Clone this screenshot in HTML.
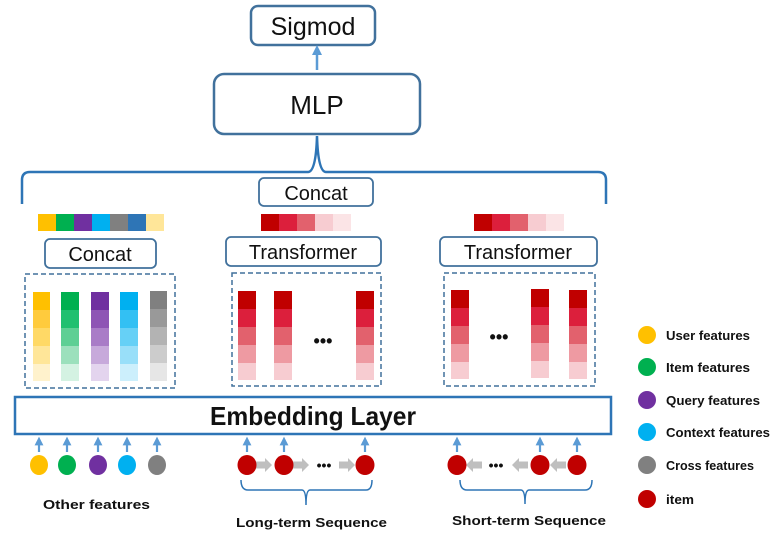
<!DOCTYPE html>
<html><head><meta charset="utf-8"><style>
html,body{margin:0;padding:0;background:#fff;}
svg{display:block;font-family:"Liberation Sans",sans-serif;}
</style></head><body>
<svg width="779" height="544" viewBox="0 0 779 544" xmlns="http://www.w3.org/2000/svg">
<defs>
<marker id="ah" viewBox="0 0 10 10" refX="5" refY="5" markerWidth="4" markerHeight="4" orient="auto"><path d="M0,0L10,5L0,10z" fill="#5B9BD5"/></marker>
<g id="gr"><path d="M0,-3.5h9v-3.5l7,7l-7,7v-3.5h-9z" fill="#BFBFBF"/></g>
<g id="gl"><path d="M16,-3.5h-9v-3.5l-7,7l7,7v-3.5h9z" fill="#BFBFBF"/></g>
<g id="rc">
<rect x="0" y="0" width="18" height="18" fill="#C00000"/><rect x="0" y="18" width="18" height="18" fill="#DC1F3C"/><rect x="0" y="36" width="18" height="18" fill="#E2616D"/><rect x="0" y="54" width="18" height="18" fill="#EE9AA2"/><rect x="0" y="72" width="18" height="17" fill="#F7CCD1"/>
</g>
</defs>
<!-- Sigmod -->
<rect x="251" y="6" width="124" height="39" rx="7" fill="#fff" stroke="#41719C" stroke-width="2.5"/>
<text x="313" y="35" font-size="25" text-anchor="middle" fill="#111">Sigmod</text>
<line x1="317" y1="70" x2="317" y2="50" stroke="#5B9BD5" stroke-width="2.5" marker-end="url(#ah)"/>
<!-- MLP -->
<rect x="214" y="74" width="206" height="60" rx="10" fill="#fff" stroke="#41719C" stroke-width="2.5"/>
<text x="317" y="114" font-size="26" text-anchor="middle" fill="#111">MLP</text>
<!-- brace -->
<path d="M22,204 L22,180 Q22,172 30,172 L308,172 Q316,172 317,136 Q318,172 326,172 L598,172 Q606,172 606,180 L606,204" fill="none" stroke="#2E75B6" stroke-width="2.5"/>
<!-- top concat -->
<rect x="259" y="178" width="114" height="28" rx="5" fill="#fff" stroke="#41719C" stroke-width="1.8"/>
<text x="316" y="200" font-size="20" text-anchor="middle" fill="#111">Concat</text>
<!-- color bars -->
<g>
<rect x="38" y="214" width="18" height="17" fill="#FFC000"/><rect x="56" y="214" width="18" height="17" fill="#00B050"/><rect x="74" y="214" width="18" height="17" fill="#7030A0"/><rect x="92" y="214" width="18" height="17" fill="#00B0F0"/><rect x="110" y="214" width="18" height="17" fill="#808080"/><rect x="128" y="214" width="18" height="17" fill="#2E75B6"/><rect x="146" y="214" width="18" height="17" fill="#FFE699"/>
</g>
<g>
<rect x="261" y="214" width="18" height="17" fill="#C00000"/><rect x="279" y="214" width="18" height="17" fill="#DC1F3C"/><rect x="297" y="214" width="18" height="17" fill="#E2616D"/><rect x="315" y="214" width="18" height="17" fill="#F7CCD1"/><rect x="333" y="214" width="18" height="17" fill="#FBE4E6"/>
</g>
<g>
<rect x="474" y="214" width="18" height="17" fill="#C00000"/><rect x="492" y="214" width="18" height="17" fill="#DC1F3C"/><rect x="510" y="214" width="18" height="17" fill="#E2616D"/><rect x="528" y="214" width="18" height="17" fill="#F7CCD1"/><rect x="546" y="214" width="18" height="17" fill="#FBE4E6"/>
</g>
<!-- boxes -->
<rect x="45" y="239" width="111" height="29" rx="5" fill="#fff" stroke="#41719C" stroke-width="1.8"/>
<text x="100" y="261" font-size="20" text-anchor="middle" fill="#111">Concat</text>
<rect x="226" y="237" width="155" height="29" rx="5" fill="#fff" stroke="#41719C" stroke-width="1.8"/>
<text x="303" y="259" font-size="20" text-anchor="middle" fill="#111">Transformer</text>
<rect x="440" y="237" width="157" height="29" rx="5" fill="#fff" stroke="#41719C" stroke-width="1.8"/>
<text x="518" y="259" font-size="20" text-anchor="middle" fill="#111">Transformer</text>
<!-- dashed -->
<g fill="none" stroke="#41719C" stroke-width="1.5" stroke-dasharray="5,3">
<rect x="25" y="274" width="150" height="114"/>
<rect x="232" y="273" width="149" height="113"/>
<rect x="444" y="273" width="151" height="113"/>
</g>
<!-- left columns -->
<g>
<rect x="33" y="292" width="17" height="18" fill="#FFC000"/><rect x="33" y="310" width="17" height="18" fill="#FFCB3D"/><rect x="33" y="328" width="17" height="18" fill="#FFD966"/><rect x="33" y="346" width="17" height="18" fill="#FFE699"/><rect x="33" y="364" width="17" height="17" fill="#FFF2CC"/>
<rect x="61" y="292" width="18" height="18" fill="#00B050"/><rect x="61" y="310" width="18" height="18" fill="#20C070"/><rect x="61" y="328" width="18" height="18" fill="#5ECF94"/><rect x="61" y="346" width="18" height="18" fill="#9CE0BC"/><rect x="61" y="364" width="18" height="17" fill="#D4F2E2"/>
<rect x="91" y="292" width="18" height="18" fill="#7030A0"/><rect x="91" y="310" width="18" height="18" fill="#8E55B5"/><rect x="91" y="328" width="18" height="18" fill="#A97CC7"/><rect x="91" y="346" width="18" height="18" fill="#C7A9DB"/><rect x="91" y="364" width="18" height="17" fill="#E3D4EE"/>
<rect x="120" y="292" width="18" height="18" fill="#00B0F0"/><rect x="120" y="310" width="18" height="18" fill="#33C0F3"/><rect x="120" y="328" width="18" height="18" fill="#66D0F6"/><rect x="120" y="346" width="18" height="18" fill="#99DFF9"/><rect x="120" y="364" width="18" height="17" fill="#CCEFFC"/>
<rect x="150" y="291" width="17" height="18" fill="#808080"/><rect x="150" y="309" width="17" height="18" fill="#999"/><rect x="150" y="327" width="17" height="18" fill="#B3B3B3"/><rect x="150" y="345" width="17" height="18" fill="#CCC"/><rect x="150" y="363" width="17" height="18" fill="#E6E6E6"/>
</g>
<use href="#rc" x="238" y="291"/>
<use href="#rc" x="274" y="291"/>
<use href="#rc" x="356" y="291"/>
<use href="#rc" x="451" y="290"/>
<use href="#rc" x="531" y="289"/>
<use href="#rc" x="569" y="290"/>
<text x="323" y="347" font-size="18" font-weight="bold" text-anchor="middle" fill="#111">•••</text>
<text x="499" y="343" font-size="18" font-weight="bold" text-anchor="middle" fill="#111">•••</text>
<!-- embedding -->
<rect x="15" y="397" width="596" height="37" fill="#fff" stroke="#2E75B6" stroke-width="2.5"/>
<text x="210" y="425" font-size="26" font-weight="bold" fill="#111" textLength="206" lengthAdjust="spacingAndGlyphs">Embedding Layer</text>
<!-- arrows -->
<g stroke="#5B9BD5" stroke-width="2.2" marker-end="url(#ah)">
<line x1="39" y1="452" x2="39" y2="441"/><line x1="67" y1="452" x2="67" y2="441"/><line x1="98" y1="452" x2="98" y2="441"/><line x1="127" y1="452" x2="127" y2="441"/><line x1="157" y1="452" x2="157" y2="441"/>
<line x1="247" y1="452" x2="247" y2="441"/><line x1="284" y1="452" x2="284" y2="441"/><line x1="365" y1="452" x2="365" y2="441"/>
<line x1="457" y1="452" x2="457" y2="441"/><line x1="540" y1="452" x2="540" y2="441"/><line x1="577" y1="452" x2="577" y2="441"/>
</g>
<!-- circles -->
<ellipse cx="39" cy="465" rx="9" ry="10" fill="#FFC000"/>
<ellipse cx="67" cy="465" rx="9" ry="10" fill="#00B050"/>
<ellipse cx="98" cy="465" rx="9" ry="10" fill="#7030A0"/>
<ellipse cx="127" cy="465" rx="9" ry="10" fill="#00B0F0"/>
<ellipse cx="157" cy="465" rx="9" ry="10" fill="#808080"/>
<use href="#gr" x="256" y="465"/><use href="#gr" x="293" y="465"/><use href="#gr" x="339" y="465"/>
<use href="#gl" x="466" y="465"/><use href="#gl" x="512" y="465"/><use href="#gl" x="550" y="465"/>
<g fill="#C00000">
<ellipse cx="247" cy="465" rx="9.5" ry="10"/><ellipse cx="284" cy="465" rx="9.5" ry="10"/><ellipse cx="365" cy="465" rx="9.5" ry="10"/>
<ellipse cx="457" cy="465" rx="9.5" ry="10"/><ellipse cx="540" cy="465" rx="9.5" ry="10"/><ellipse cx="577" cy="465" rx="9.5" ry="10"/>
</g>
<text x="324" y="470" font-size="14" font-weight="bold" text-anchor="middle" fill="#111">•••</text>
<text x="496" y="470" font-size="14" font-weight="bold" text-anchor="middle" fill="#111">•••</text>
<!-- lower braces -->
<path d="M241,480 Q241,490 248,490 L302,490 Q306,490 306,505 Q306,490 310,490 L366,490 Q372,490 372,480" fill="none" stroke="#2E75B6" stroke-width="1.5"/>
<path d="M460,480 Q460,490 467,490 L521,490 Q525,490 525,504 Q525,490 529,490 L585,490 Q592,490 592,480" fill="none" stroke="#2E75B6" stroke-width="1.5"/>
<g font-size="13" font-weight="bold" fill="#111">
<text x="43" y="509" textLength="107" lengthAdjust="spacingAndGlyphs">Other features</text>
<text x="236" y="527" textLength="151" lengthAdjust="spacingAndGlyphs">Long-term Sequence</text>
<text x="452" y="525" textLength="154" lengthAdjust="spacingAndGlyphs">Short-term Sequence</text>
</g>
<!-- legend -->
<circle cx="647" cy="335" r="9" fill="#FFC000"/>
<circle cx="647" cy="367" r="9" fill="#00B050"/>
<circle cx="647" cy="400" r="9" fill="#7030A0"/>
<circle cx="647" cy="432" r="9" fill="#00B0F0"/>
<circle cx="647" cy="465" r="9" fill="#808080"/>
<circle cx="647" cy="499" r="9" fill="#C00000"/>
<g font-size="13" font-weight="bold" fill="#111">
<text x="666" y="340" textLength="84" lengthAdjust="spacingAndGlyphs">User features</text>
<text x="666" y="372" textLength="84" lengthAdjust="spacingAndGlyphs">Item features</text>
<text x="666" y="405" textLength="94" lengthAdjust="spacingAndGlyphs">Query features</text>
<text x="666" y="437" textLength="104" lengthAdjust="spacingAndGlyphs">Context features</text>
<text x="666" y="470" textLength="88" lengthAdjust="spacingAndGlyphs">Cross features</text>
<text x="666" y="504" textLength="28" lengthAdjust="spacingAndGlyphs">item</text>
</g>
</svg>
</body></html>
